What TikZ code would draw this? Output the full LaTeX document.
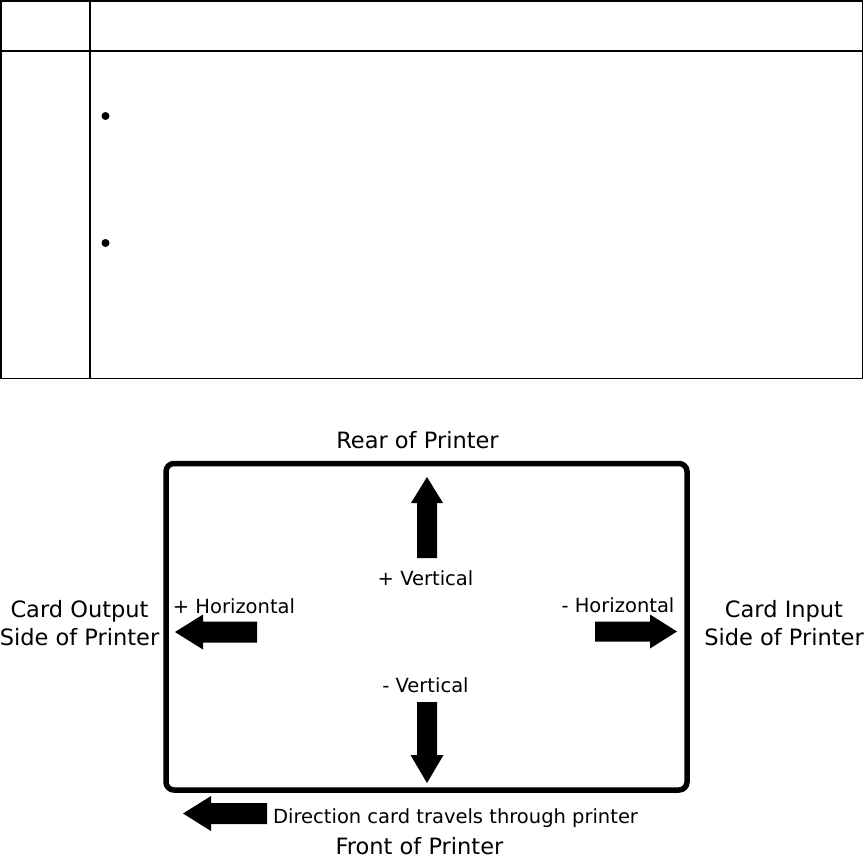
\documentclass[tikz,border=0pt]{standalone}
\usepackage{fontspec}
\setmainfont{DejaVu Sans}
\begin{document}
\begin{tikzpicture}[x=1pt, y=-1pt,
    big/.style={font=\fontsize{22.5}{28}\selectfont, inner sep=0pt, anchor=base},
    small/.style={font=\fontsize{19.5}{23}\selectfont, inner sep=0pt, anchor=base},
    bullet/.style={circle, fill=black, inner sep=0pt, minimum size=8pt},
    grid/.style={line width=1.5pt},
    blockarrow/.style={fill=black}]
    \useasboundingbox (0,0) rectangle (865,860);

    %––––– table –––––
    \draw[grid] (0.75,0.75) rectangle (862.5,378.5);
    \draw[grid] (90,0.75) -- (90,378.5);
    \draw[grid] (0.75,51) -- (862.5,51);
    \node[bullet] (b1) at (105.5,116) {};
    \node[bullet] (b2) at (105.5,243) {};

    %––––– card –––––
    \node[draw, line width=5.5pt, rounded corners=8pt, inner sep=0pt, minimum width=521pt, minimum height=326.5pt] (card) at (426.5,626.75) {};

    %––––– arrows –––––
    \fill[blockarrow] (427,477) -- (443,503) -- (437,503) -- (437,558) -- (417,558) -- (417,503) -- (411,503) -- cycle;
    \fill[blockarrow] (427,783) -- (443.5,755) -- (437,755) -- (437,702) -- (417,702) -- (417,755) -- (410.5,755) -- cycle;
    \fill[blockarrow] (175,632) -- (203,614.5) -- (203,621.5) -- (257,621.5) -- (257,642.5) -- (203,642.5) -- (203,649.5) -- cycle;
    \fill[blockarrow] (677,631.5) -- (650,614.5) -- (650,621.5) -- (595,621.5) -- (595,641.5) -- (650,641.5) -- (650,648.5) -- cycle;
    \fill[blockarrow] (183,813.5) -- (211,796) -- (211,803) -- (267,803) -- (267,824) -- (211,824) -- (211,831) -- cycle;

    %––––– labels –––––
    \node[big] (rear) at (417.5,448) {Rear of Printer};
    \node[small] (pv) at (425.5,585) {+ Vertical};
    \node[small] (ph) at (234,613) {+ Horizontal};
    \node[small] (mh) at (618,612) {- Horizontal};
    \node[big, align=center] (out) at (79.5,645) {Card Output\\Side of Printer};
    \node[big, align=center] (in) at (784,645) {Card Input\\Side of Printer};
    \node[small] (mv) at (425.5,692) {- Vertical};
    \node[small, anchor=base west] (dir) at (273,823) {Direction card travels through printer};
    \node[big] (front) at (419.5,854) {Front of Printer};
\end{tikzpicture}
\end{document}
